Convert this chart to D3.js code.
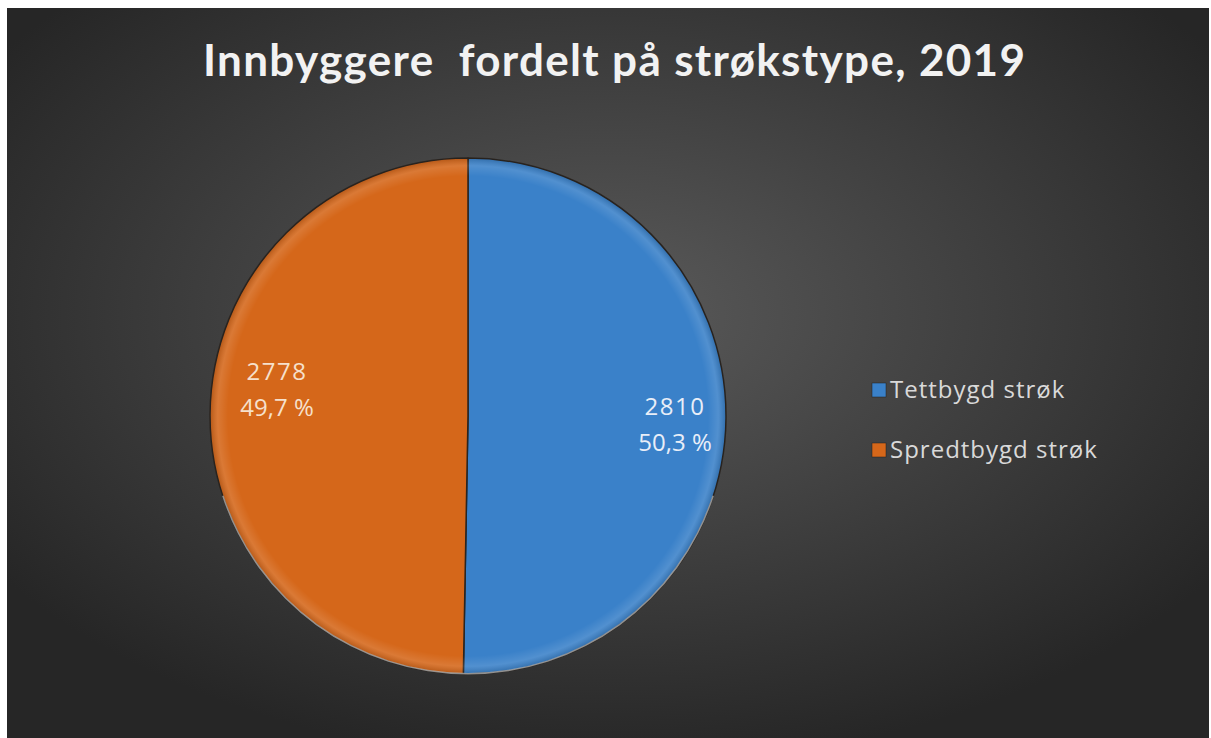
<!DOCTYPE html>
<html>
<head>
<meta charset="utf-8">
<script src="https://cdn.jsdelivr.net/npm/d3@7"></script>
<style>
  body { margin: 0; background: #fff; }
  svg { display: block; }
</style>
</head>
<body>
<div id="chart"></div>
<script>
// chart data
let categories = ["Tettbygd strøk", "Spredtbygd strøk"];
let values = [2810, 2778];
let percentLabels = ["50,3 %", "49,7 %"];
let colors = ["#3a81c9", "#d5671a"];
let title = "Innbyggere\u00a0 fordelt på strøkstype, 2019";

let width = 1211, height = 738;
let frame = {left: 7, top: 8, right: 1209, bottom: 738};

let svg = d3.select("#chart")
    .append("svg")
    .attr("width", width)
    .attr("height", height);

let defs = svg.append("defs");

// background gradient
let bg = defs.append("radialGradient")
    .attr("id", "bg")
    .attr("cx", "50%").attr("cy", "42%").attr("r", "62%");
bg.append("stop").attr("offset", "0%").attr("stop-color", "#5a5a5a");
bg.append("stop").attr("offset", "100%").attr("stop-color", "#262626");

svg.append("rect")
    .attr("x", frame.left)
    .attr("y", frame.top)
    .attr("width", frame.right - frame.left)
    .attr("height", frame.bottom - frame.top)
    .attr("fill", "url(#bg)");

// title
svg.append("text")
    .attr("x", 614)
    .attr("y", 76)
    .attr("text-anchor", "middle")
    .attr("textLength", 822)
    .attr("lengthAdjust", "spacing")
    .style("font-family", "Lato, 'Open Sans', sans-serif")
    .style("font-weight", "bold")
    .style("font-size", "44px")
    .style("fill", "#f2f2f2")
    .text(title);

// pie
let cx = 468, cy = 416, radius = 258;

let pie = d3.pie()
    .sort(null)
    .value(function(d) { return d; });

let arc = d3.arc()
    .innerRadius(0)
    .outerRadius(radius);

let arcs = pie(values);

// bevel shading overlay
let bevel = defs.append("radialGradient")
    .attr("id", "bevel")
    .attr("gradientUnits", "userSpaceOnUse")
    .attr("cx", 0).attr("cy", 0).attr("r", radius);
bevel.append("stop").attr("offset", "0%").attr("stop-color", "#fff").attr("stop-opacity", 0);
bevel.append("stop").attr("offset", "93%").attr("stop-color", "#fff").attr("stop-opacity", 0);
bevel.append("stop").attr("offset", "97%").attr("stop-color", "#fff").attr("stop-opacity", 0.12);
bevel.append("stop").attr("offset", "100%").attr("stop-color", "#000").attr("stop-opacity", 0.15);

let pieG = svg.append("g")
    .attr("transform", "translate(" + cx + "," + cy + ")");

pieG.selectAll("path.slice")
    .data(arcs)
    .enter()
    .append("path")
    .attr("class", "slice")
    .attr("d", arc)
    .attr("fill", function(d, i) { return colors[i]; })
    .attr("stroke", "#2b2520")
    .attr("stroke-width", 1.5);

pieG.selectAll("path.shade")
    .data(arcs)
    .enter()
    .append("path")
    .attr("class", "shade")
    .attr("d", arc)
    .attr("fill", "url(#bevel)");

// light rim at the bottom
pieG.append("path")
    .attr("d", d3.arc().innerRadius(radius - 1).outerRadius(radius + 0.5)
        .startAngle(Math.PI * 0.6).endAngle(Math.PI * 1.4)())
    .attr("fill", "#bfbfbf")
    .attr("opacity", 0.7);

// data labels
let labelPos = [[675, 415], [277, 380]];
let labels = pieG.selectAll("g.label")
    .data(arcs)
    .enter()
    .append("g")
    .attr("class", "label")
    .attr("transform", function(d, i) {
        return "translate(" + (labelPos[i][0] - cx) + "," + (labelPos[i][1] - cy) + ")";
    });

labels.append("text")
    .attr("text-anchor", "middle")
    .attr("y", 0)
    .style("font-family", "'Open Sans', sans-serif")
    .style("font-size", "24px")
    .style("letter-spacing", "1.5px")
    .style("fill", function(d, i) { return i == 0 ? "#e8eef8" : "#f6e0cc"; })
    .text(function(d) { return d.data; });

labels.append("text")
    .attr("text-anchor", "middle")
    .attr("y", 36)
    .style("font-family", "'Open Sans', sans-serif")
    .style("font-size", "24px")
    .style("fill", function(d, i) { return i == 0 ? "#e8eef8" : "#f6e0cc"; })
    .text(function(d, i) { return percentLabels[i]; });

// legend
let legend = svg.append("g")
    .attr("transform", "translate(872,383)");

let items = legend.selectAll("g")
    .data(categories)
    .enter()
    .append("g")
    .attr("transform", function(d, i) { return "translate(0," + (i * 60) + ")"; });

items.append("rect")
    .attr("width", 14)
    .attr("height", 14)
    .attr("fill", function(d, i) { return colors[i]; })
    .attr("stroke", "#222")
    .attr("stroke-width", 0.5);

items.append("text")
    .attr("x", 18)
    .attr("y", 15)
    .style("font-family", "'Open Sans', sans-serif")
    .style("font-size", "24px")
    .style("letter-spacing", "1px")
    .style("fill", "#d9d9d9")
    .text(function(d) { return d; });
</script>
</body>
</html>
